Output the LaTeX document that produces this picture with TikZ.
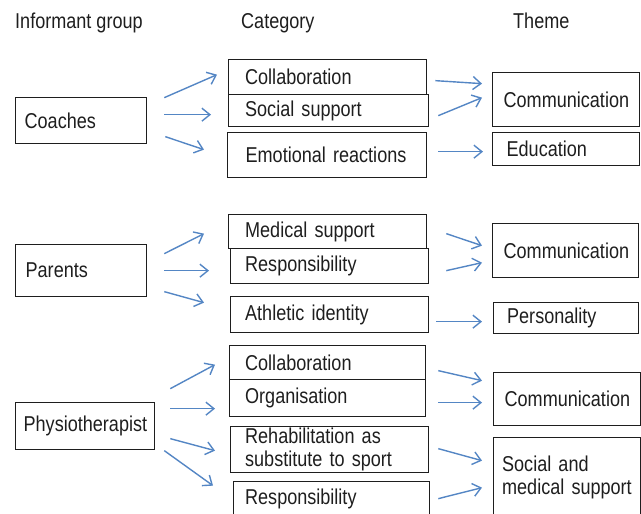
\documentclass[tikz,border=0pt]{standalone}
\usepackage{fontspec}
\setmainfont{Liberation Sans}[FakeStretch=0.84]
\usetikzlibrary{positioning,arrows.meta}
\definecolor{FlowBlue}{RGB}{84,134,196}
\definecolor{InkGray}{RGB}{30,30,30}
\tikzset{
  box/.style n args={3}{draw=InkGray,line width=1.3pt,anchor=north west,
    minimum width=#1,minimum height=#2,inner xsep=#3,inner ysep=0pt,
    text width=#1-2*#3,align=left},
  flow/.style={draw=FlowBlue,line width=1.4pt,-{Straight Barb[length=8pt,width=13pt]}},
  head/.style={anchor=base west,inner sep=0pt},
}

\begin{document}
\begin{tikzpicture}[x=1pt,y=-1pt,text=InkGray,font=\fontsize{21.5}{23.5}\selectfont]
\useasboundingbox (0,0) rectangle (641,514);
% column heads
\node[head] (hgroup) at (15,28) {Informant group};
\node[head] (hcat) at (241,28) {Category};
\node[head] (htheme) at (513,28) {Theme};

% coaches
\node[box={131}{46}{9}] (coach) at (15,97) {Coaches};
\node[box={198}{35}{16.5}] (collabA) at (228,59) {Collaboration};
\node[box={200}{32}{16.5}] (socialA) at (228,94) {Social support};
\node[box={199}{45}{18}] (emotA) at (227,132) {Emotional reactions};
\node[box={147}{54}{11}] (commA) at (492,72) {Communication};
\node[box={147}{33}{14}] (eduA) at (492,132) {Education};
\draw[flow] ([shift={(17,-23)}]coach.east) -- ([shift={(-11,-2.5)}]collabA.west);
\draw[flow] ([shift={(17,-6)}]coach.east) -- ([shift={(-17,4)}]socialA.west);
\draw[flow] ([shift={(18,16)}]coach.east) -- ([shift={(-23,-5.5)}]emotA.west);
\draw[flow] ([shift={(8,3.5)}]collabA.east) -- ([shift={(-10,-16)}]commA.west);
\draw[flow] ([shift={(9,5)}]socialA.east) -- ([shift={(-10,-2)}]commA.west);
\draw[flow] ([shift={(11,-3.5)}]emotA.east) -- ([shift={(-9,2.5)}]eduA.west);

% parents
\node[box={131}{52}{10}] (parent) at (15,244) {Parents};
\node[box={198}{34}{16.5}] (medB) at (228,214) {Medical support};
\node[box={198}{35}{14.5}] (respB) at (230,248) {Responsibility};
\node[box={198}{36}{14.5}] (athB) at (230,296) {Athletic identity};
\node[box={146}{54}{11}] (commB) at (492,223) {Communication};
\node[box={145}{31}{13.5}] (persB) at (493,302) {Personality};
\draw[flow] ([shift={(17,-17)}]parent.east) -- ([shift={(-24,2)}]medB.west);
\draw[flow] ([shift={(17,0)}]parent.east) -- ([shift={(-21,4.5)}]respB.west);
\draw[flow] ([shift={(17,21)}]parent.east) -- ([shift={(-26,-12)}]athB.west);
\draw[flow] ([shift={(19,2)}]medB.east) -- ([shift={(-10,-5)}]commB.west);
\draw[flow] ([shift={(17,4.5)}]respB.east) -- ([shift={(-10,12)}]commB.west);
\draw[flow] ([shift={(7,7)}]athB.east) -- ([shift={(-11,3.5)}]persB.west);

% physiotherapist
\node[box={139}{47}{8}] (physio) at (15,402) {Physiotherapist};
\node[box={196}{34}{15.5}] (collabC) at (229,345) {Collaboration};
\node[box={196}{37}{15.5}] (orgC) at (229,379) {Organisation};
\node[box={198}{46}{14.5}] (rehabC) at (230,426) {Rehabilitation as\\substitute to sport};
\node[box={196}{35}{11.5}] (respC) at (233,481) {Responsibility};
\node[box={147}{53}{11}] (commC) at (493,372) {Communication};
\node[box={147}{80}{8.5}] (socmedC) at (493,437) {Social and\\medical support};
\draw[flow] ([shift={(15,-37.5)}]physio.east) -- ([shift={(-14,2)}]collabC.west);
\draw[flow] ([shift={(15,-17.5)}]physio.east) -- ([shift={(-14,10.5)}]orgC.west);
\draw[flow] ([shift={(15,12.5)}]physio.east) -- ([shift={(-15,1)}]rehabC.west);
\draw[flow] ([shift={(9,24.5)}]physio.east) -- ([shift={(-20,-13.5)}]respC.west);
\draw[flow] ([shift={(12,8)}]collabC.east) -- ([shift={(-11,-18.5)}]commC.west);
\draw[flow] ([shift={(12,4.5)}]orgC.east) -- ([shift={(-11,3.5)}]commC.west);
\draw[flow] ([shift={(9,-1)}]rehabC.east) -- ([shift={(-11,-17)}]socmedC.west);
\draw[flow] ([shift={(8,-0.5)}]respC.east) -- ([shift={(-11,10)}]socmedC.west);
\end{tikzpicture}
\end{document}
